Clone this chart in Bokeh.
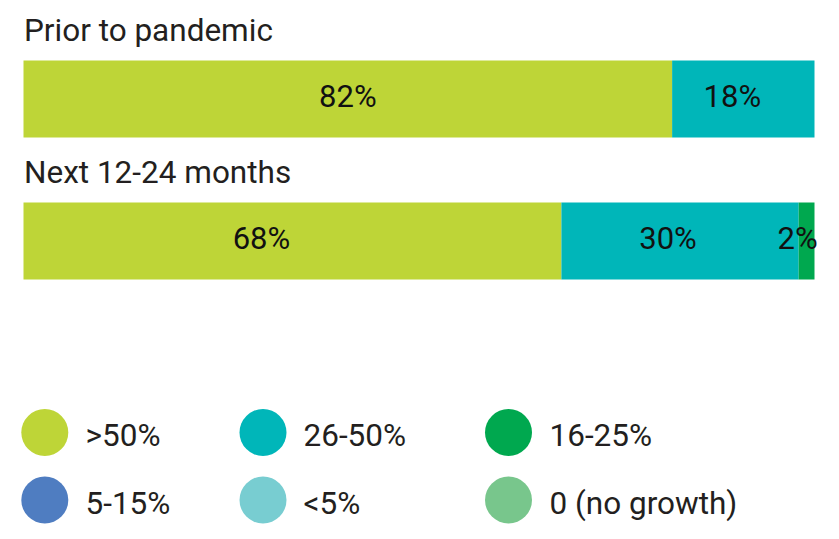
from bokeh.plotting import figure
from bokeh.models import Range1d, ColumnDataSource
from bokeh.core.properties import value
from bokeh.embed import file_html
from bokeh.resources import INLINE

# ---- data ----
groups = ["Prior to pandemic", "Next 12-24 months"]
categories = [">50%", "26-50%", "16-25%", "5-15%", "<5%", "0 (no growth)"]
prior_values = [82, 18, 0, 0, 0, 0]
next_values = [68, 30, 2, 0, 0, 0]
colors = ["#BED537", "#00B6B9", "#00A84F", "#4F7DC1", "#78CDD1", "#78C68C"]

FONT = value("Roboto")
TXT = "#231F20"
W, H = 823, 530
PX_PER_UNIT = 7.91
x0 = -23 / PX_PER_UNIT

p = figure(width=W, height=H, output_backend="svg", toolbar_location=None,
           x_range=Range1d(x0, x0 + W / PX_PER_UNIT), y_range=Range1d(H, 0),
           min_border=0, outline_line_color=None)
p.axis.visible = False
p.grid.visible = False
p.extra_x_ranges = {"px": Range1d(0, W)}

bar_centers = [98.5, 240.5]
title_base = [29.5, 171.5]
label_base = [96, 238]
label_offsets = [[0, -11, 0], [-31, -12, -9]]

for gi, (name, vals) in enumerate(zip(groups, [prior_values, next_values])):
    lefts, rights, cols, lx, lt, loff = [], [], [], [], [], []
    acc = 0
    for ci, v in enumerate(vals):
        if v <= 0:
            continue
        lefts.append(acc)
        rights.append(acc + v)
        cols.append(colors[ci])
        lx.append(acc + v / 2)
        lt.append(f"{v}%")
        loff.append(label_offsets[gi][len(lt) - 1])
        acc += v
    src = ColumnDataSource(dict(left=lefts, right=rights, color=cols,
                                y=[bar_centers[gi]] * len(lefts)))
    p.hbar(y="y", left="left", right="right", height=77, fill_color="color",
           line_color=None, source=src)
    lsrc = ColumnDataSource(dict(x=lx, y=[label_base[gi]] * len(lx), t=lt, off=loff))
    p.text(x="x", y="y", text="t", x_offset="off", source=lsrc, text_align="center",
           text_baseline="alphabetic", text_font=FONT, text_font_size="31px",
           text_color="#111111")
    p.text(x=[0], y=[title_base[gi]], text=[name], x_offset=0.5, text_align="left",
           text_baseline="alphabetic", text_font=FONT, text_font_size="31.5px",
           text_color=TXT)

# ---- legend (pixel coordinates) ----
col_circle_x = [44.3, 262.5, 508]
col_text_x = [85, 303, 549]
row_circle_y = [432, 499.5]
row_text_y = [435, 503]
cx, cy, tx, ty = [], [], [], []
for i, c in enumerate(categories):
    r, k = divmod(i, 3)
    cx.append(col_circle_x[k]); cy.append(row_circle_y[r])
    tx.append(col_text_x[k]); ty.append(row_text_y[r])
p.scatter(x=cx, y=cy, size=47, marker="circle", fill_color=colors, line_color=None,
          x_range_name="px")
p.text(x=tx, y=ty, text=categories, x_range_name="px", text_align="left",
       text_baseline="alphabetic", text_font=FONT, text_font_size="31.5px",
       text_color=TXT)

open("out.html", "w").write(file_html(p, INLINE))
